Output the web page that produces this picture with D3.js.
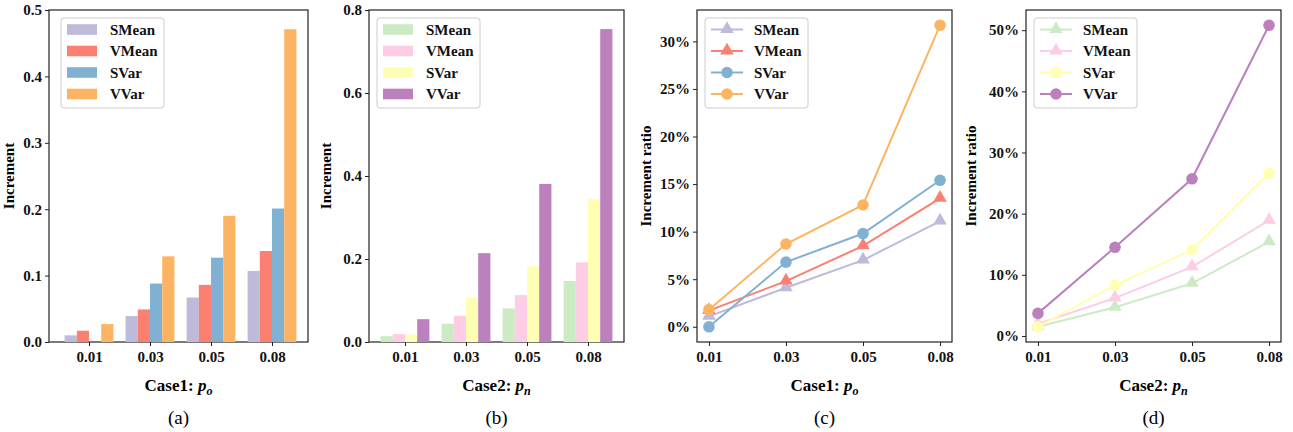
<!DOCTYPE html>
<html>
<head>
<meta charset="utf-8">
<script src="https://cdn.jsdelivr.net/npm/d3@7"></script>
<style>
  body { margin: 0; background: #fff; }
  text { font-family: "Liberation Serif", "Times New Roman", serif; }
</style>
</head>
<body>
<svg id="chart" width="1293" height="432"></svg>
<script>
// categories and series
var categories = ["0.01", "0.03", "0.05", "0.08"];
var seriesNames = ["SMean", "VMean", "SVar", "VVar"];

// (a) increment, case 1
var incCase1SMean = [0.010, 0.039, 0.067, 0.107];
var incCase1VMean = [0.017, 0.049, 0.086, 0.137];
var incCase1SVar  = [0.000, 0.088, 0.127, 0.201];
var incCase1VVar  = [0.027, 0.129, 0.190, 0.471];

// (b) increment, case 2
var incCase2SMean = [0.014, 0.044, 0.081, 0.147];
var incCase2VMean = [0.019, 0.063, 0.113, 0.192];
var incCase2SVar  = [0.018, 0.107, 0.182, 0.345];
var incCase2VVar  = [0.055, 0.214, 0.381, 0.754];

// (c) increment ratio, case 1
var ratioCase1SMean = [0.011, 0.041, 0.070, 0.111];
var ratioCase1VMean = [0.017, 0.048, 0.085, 0.135];
var ratioCase1SVar  = [0.000, 0.068, 0.098, 0.154];
var ratioCase1VVar  = [0.018, 0.087, 0.128, 0.317];

// (d) increment ratio, case 2
var ratioCase2SMean = [0.015, 0.047, 0.086, 0.154];
var ratioCase2VMean = [0.020, 0.062, 0.113, 0.189];
var ratioCase2SVar  = [0.015, 0.083, 0.141, 0.266];
var ratioCase2VVar  = [0.037, 0.145, 0.257, 0.508];

// tick values
var ticksA = [0, 0.1, 0.2, 0.3, 0.4, 0.5];
var ticksB = [0, 0.2, 0.4, 0.6, 0.8];
var ticksC = [0, 0.05, 0.10, 0.15, 0.20, 0.25, 0.30];
var ticksD = [0, 0.1, 0.2, 0.3, 0.4, 0.5];

var colors1 = ["#bebada", "#fb8072", "#80b1d3", "#fdb462"];
var colors2 = ["#ccebc5", "#fccde5", "#ffffb3", "#bc80bd"];

var svg = d3.select("#chart");
var plotTop = 10, plotBottom = 342;

/** draw the frame, ticks and labels of one panel */
function drawFrame(p) {
    var g = svg.append("g");
    // y axis
    var yAxis = d3.axisLeft(p.y).tickValues(p.yTicks).tickFormat(p.fmt).tickSize(4).tickPadding(3);
    var ya = g.append("g").attr("transform", "translate(" + p.left + ",0)").call(yAxis);
    var xAxis = d3.axisBottom(p.x).tickValues([0, 1, 2, 3]).tickFormat(function(i){return categories[i];}).tickSize(4).tickPadding(5);
    var xa = g.append("g").attr("transform", "translate(0," + plotBottom + ")").call(xAxis);
    [ya, xa].forEach(function(a) {
        a.select(".domain").remove();
        a.selectAll("line").attr("stroke", "#222").attr("stroke-width", 1);
        a.selectAll("text").attr("fill", "#111").style("font-size", "15px").style("font-weight", "bold")
            .style("font-family", "'Liberation Serif', serif");
    });
    // frame
    g.append("rect").attr("x", p.left).attr("y", plotTop).attr("width", p.right - p.left).attr("height", plotBottom - plotTop)
        .attr("fill", "none").attr("stroke", "#222").attr("stroke-width", 1.2);
    // y label
    g.append("text").attr("transform", "translate(" + p.yLabelX + "," + ((plotTop + plotBottom) / 2) + ") rotate(-90)")
        .attr("text-anchor", "middle").style("font-size", "15px").style("font-weight", "bold").text(p.yLabel);
    // x label
    var xl = g.append("text").attr("x", (p.left + p.right) / 2).attr("y", 391).attr("text-anchor", "middle")
        .style("font-size", "17px").style("font-weight", "bold");
    xl.append("tspan").text(p.caseName + ": ");
    xl.append("tspan").style("font-style", "italic").text("p");
    xl.append("tspan").style("font-style", "italic").style("font-size", "12px").attr("dy", 4).text(p.sub);
    // panel letter
    g.append("text").attr("x", (p.left + p.right) / 2).attr("y", 424).attr("text-anchor", "middle")
        .style("font-size", "19px").text(p.letter);
    return g;
}

/** legend box with swatches or line markers */
function drawLegend(g, x0, colors, kind) {
    var lg = g.append("g").attr("transform", "translate(" + x0 + ",18)");
    lg.append("rect").attr("width", 103).attr("height", 90).attr("rx", 3)
        .attr("fill", "#fff").attr("fill-opacity", 0.8).attr("stroke", "#ccc").attr("stroke-width", 1);
    seriesNames.forEach(function(name, i) {
        var cy = 11.5 + i * 21.5;
        if (kind === "bar") {
            lg.append("rect").attr("x", 6).attr("y", cy - 5.3).attr("width", 30).attr("height", 10.6).attr("fill", colors[i]);
        } else {
            lg.append("line").attr("x1", 6).attr("x2", 38).attr("y1", cy).attr("y2", cy)
                .attr("stroke", colors[i]).attr("stroke-width", 2);
            drawMarker(lg, 22, cy, i < 2 ? "tri" : "circle", colors[i]);
        }
        lg.append("text").attr("x", 49).attr("y", cy + 5).style("font-size", "15px").style("font-weight", "bold")
            .attr("fill", "#111").text(name);
    });
}

function drawMarker(g, x, y, shape, color) {
    if (shape === "circle") {
        g.append("circle").attr("cx", x).attr("cy", y).attr("r", 5.8).attr("fill", color);
    } else {
        g.append("path").attr("d", d3.symbol(d3.symbolTriangle, 80)())
            .attr("transform", "translate(" + x + "," + (y - 0.5) + ")").attr("fill", color);
    }
}

function barPanel(p, series, colors) {
    var g = drawFrame(p);
    series.forEach(function(vals, s) {
        g.selectAll(null).data(vals).enter().append("rect")
            .attr("x", function(d, i){return p.x(i + (s - 2) * 0.2);})
            .attr("width", p.x(0.2) - p.x(0))
            .attr("y", function(d){return p.y(d);})
            .attr("height", function(d){return p.y(0) - p.y(d);})
            .attr("fill", colors[s]);
    });
    drawLegend(g, p.legendX, colors, "bar");
}

function linePanel(p, series, colors) {
    var g = drawFrame(p);
    var line = d3.line().x(function(d, i){return p.x(i);}).y(function(d){return p.y(d);});
    series.forEach(function(vals, s) {
        g.append("path").datum(vals).attr("d", line).attr("fill", "none")
            .attr("stroke", colors[s]).attr("stroke-width", 2);
        vals.forEach(function(v, i) {
            drawMarker(g, p.x(i), p.y(v), s < 2 ? "tri" : "circle", colors[s]);
        });
    });
    drawLegend(g, p.legendX, colors, "line");
}

// (a)
barPanel({
    left: 49, right: 308,
    x: d3.scaleLinear().domain([-0.656, 3.59]).range([49, 308]),
    y: d3.scaleLinear().domain([0, 0.5]).range([plotBottom, plotTop]),
    yTicks: ticksA, fmt: d3.format(".1f"), yLabel: "Increment", yLabelX: 14,
    caseName: "Case1", sub: "o", letter: "(a)", legendX: 61
}, [incCase1SMean, incCase1VMean, incCase1SVar, incCase1VVar], colors1);

// (b)
barPanel({
    left: 369, right: 624,
    x: d3.scaleLinear().domain([-0.59, 3.59]).range([369, 624]),
    y: d3.scaleLinear().domain([0, 0.8]).range([plotBottom, plotTop]),
    yTicks: ticksB, fmt: d3.format(".1f"), yLabel: "Increment", yLabelX: 331,
    caseName: "Case2", sub: "n", letter: "(b)", legendX: 377
}, [incCase2SMean, incCase2VMean, incCase2SVar, incCase2VVar], colors2);

// (c)
linePanel({
    left: 697, right: 952,
    x: d3.scaleLinear().domain([-0.155, 3.155]).range([697, 952]),
    y: d3.scaleLinear().domain([-0.016, 0.333]).range([plotBottom, plotTop]),
    yTicks: ticksC, fmt: d3.format(".0%"), yLabel: "Increment ratio", yLabelX: 651,
    caseName: "Case1", sub: "o", letter: "(c)", legendX: 705
}, [ratioCase1SMean, ratioCase1VMean, ratioCase1SVar, ratioCase1VVar], colors1);

// (d)
linePanel({
    left: 1026, right: 1281,
    x: d3.scaleLinear().domain([-0.155, 3.155]).range([1026, 1281]),
    y: d3.scaleLinear().domain([-0.0098, 0.533]).range([plotBottom, plotTop]),
    yTicks: ticksD, fmt: d3.format(".0%"), yLabel: "Increment ratio", yLabelX: 976,
    caseName: "Case2", sub: "n", letter: "(d)", legendX: 1034
}, [ratioCase2SMean, ratioCase2VMean, ratioCase2SVar, ratioCase2VVar], colors2);
</script>
</body>
</html>
